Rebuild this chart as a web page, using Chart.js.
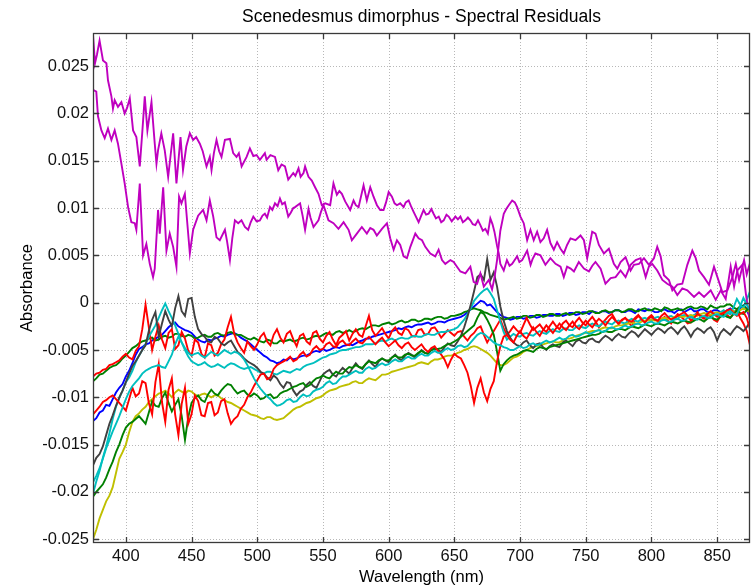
<!DOCTYPE html>
<html>
<head>
<meta charset="utf-8">
<title>Scenedesmus dimorphus - Spectral Residuals</title>
<script src="https://cdn.jsdelivr.net/npm/chart.js@4.4.0/dist/chart.umd.min.js"></script>
<style>
  html, body { margin: 0; padding: 0; background: #fff; }
  #wrap { width: 756px; height: 587px; }
</style>
</head>
<body>
<div id="wrap"><canvas id="residuals" width="756" height="587"></canvas></div>
<script>
// wavelength grid shared by most traces (nm), 2.5 nm spacing
const wavelengths = [
  375, 377.5, 380, 382.5, 385, 387.5, 390, 392.5, 395, 397.5,
  400, 402.5, 405, 407.5, 410, 412.5, 415, 417.5, 420, 422.5,
  425, 427.5, 430, 432.5, 435, 437.5, 440, 442.5, 445, 447.5,
  450, 452.5, 455, 457.5, 460, 462.5, 465, 467.5, 470, 472.5,
  475, 477.5, 480, 482.5, 485, 487.5, 490, 492.5, 495, 497.5,
  500, 502.5, 505, 507.5, 510, 512.5, 515, 517.5, 520, 522.5,
  525, 527.5, 530, 532.5, 535, 537.5, 540, 542.5, 545, 547.5,
  550, 552.5, 555, 557.5, 560, 562.5, 565, 567.5, 570, 572.5,
  575, 577.5, 580, 582.5, 585, 587.5, 590, 592.5, 595, 597.5,
  600, 602.5, 605, 607.5, 610, 612.5, 615, 617.5, 620, 622.5,
  625, 627.5, 630, 632.5, 635, 637.5, 640, 642.5, 645, 647.5,
  650, 652.5, 655, 657.5, 660, 662.5, 665, 667.5, 670, 672.5,
  675, 677.5, 680, 682.5, 685, 687.5, 690, 692.5, 695, 697.5,
  700, 702.5, 705, 707.5, 710, 712.5, 715, 717.5, 720, 722.5,
  725, 727.5, 730, 732.5, 735, 737.5, 740, 742.5, 745, 747.5,
  750, 752.5, 755, 757.5, 760, 762.5, 765, 767.5, 770, 772.5,
  775, 777.5, 780, 782.5, 785, 787.5, 790, 792.5, 795, 797.5,
  800, 802.5, 805, 807.5, 810, 812.5, 815, 817.5, 820, 822.5,
  825, 827.5, 830, 832.5, 835, 837.5, 840, 842.5, 845, 847.5,
  850, 852.5, 855, 857.5, 860, 862.5, 865, 867.5, 870, 872.5,
  875
];

// residuals in milli-absorbance units, one value per wavelength above
const blue1 = [
  -12.5, -12.2, -11.6, -11.4, -10.8, -10.9, -10.2, -9.5, -9.0, -8.6,
  -7.8, -7.2, -6.4, -5.5, -4.9, -4.7, -4.4, -4.3, -4.0, -3.8,
  -3.6, -3.4, -3.0, -2.6, -2.3, -2.1, -2.5, -2.7, -2.9, -3.0,
  -3.2, -3.6, -3.9, -4.1, -4.2, -3.9, -4.0, -3.8, -3.7, -3.5,
  -3.6, -3.4, -3.3, -3.2, -3.4, -3.7, -3.9, -4.1, -4.4, -4.7,
  -5.0, -5.3, -5.6, -5.8, -6.1, -6.2, -6.4, -6.3, -6.0, -6.1,
  -5.8, -6.0, -5.9, -5.7, -5.6, -5.6, -5.4, -5.2, -5.1, -5.2,
  -4.9, -5.1, -5.0, -4.8, -4.7, -4.8, -4.6, -4.5, -4.4, -4.5,
  -4.3, -4.1, -4.0, -3.8, -3.8, -3.6, -3.5, -3.4, -3.3, -3.2,
  -3.1, -3.0, -2.9, -2.7, -2.8, -2.6, -2.5, -2.6, -2.4, -2.3,
  -2.3, -2.2, -2.1, -2.3, -2.2, -2.0, -2.0, -2.1, -1.9, -1.8,
  -1.7, -1.6, -1.5, -1.3, -1.0, -0.7, -0.4, -0.1, 0.2, 0.1,
  -0.3, -0.2, -0.6, -1.0, -1.3, -1.5, -1.6, -1.8, -1.7, -1.5,
  -1.5, -1.7, -1.6, -1.4, -1.4, -1.6, -1.5, -1.3, -1.3, -1.4,
  -1.4, -1.2, -1.2, -1.4, -1.3, -1.1, -1.1, -1.3, -1.2, -1.0,
  -1.0, -1.2, -0.9, -1.0, -1.1, -0.9, -0.9, -1.1, -1.0, -0.8,
  -0.8, -1.0, -1.0, -0.8, -0.9, -1.1, -0.7, -0.8, -0.9, -0.7,
  -0.8, -1.0, -1.0, -0.8, -0.7, -0.9, -0.9, -1.1, -0.8, -0.7,
  -1.0, -0.8, -0.6, -0.9, -0.9, -0.7, -0.7, -1.0, -1.0, -0.8,
  -0.8, -1.0, -1.1, -0.8, -0.6, -0.9, -1.0, -0.6, -0.3, -0.8,
  -1.5
];
const green1 = [
  -8.3, -8.0, -7.6, -7.5, -7.2, -6.9, -6.7, -6.6, -6.3, -5.9,
  -5.6, -5.2, -4.8, -4.6, -4.3, -4.1, -4.0, -3.8, -3.7, -4.0,
  -3.9, -3.6, -3.5, -3.7, -3.6, -3.3, -3.3, -3.5, -3.6, -3.4,
  -3.5, -3.8, -3.7, -3.5, -3.4, -3.6, -3.6, -3.3, -3.2, -3.4,
  -3.5, -3.2, -3.1, -3.3, -3.4, -3.4, -3.6, -3.8, -3.9, -3.7,
  -3.9, -4.1, -4.2, -3.9, -4.0, -4.3, -4.3, -4.0, -4.1, -4.0,
  -3.9, -4.1, -4.0, -3.8, -3.7, -3.9, -3.8, -3.6, -3.5, -3.6,
  -3.4, -3.2, -3.3, -3.4, -3.1, -3.0, -3.2, -3.1, -2.9, -3.1,
  -3.0, -2.8, -2.7, -2.8, -2.6, -2.4, -2.4, -2.5, -2.3, -2.2,
  -2.1, -2.3, -2.2, -2.0, -1.9, -2.1, -2.0, -1.8, -1.8, -2.0,
  -1.9, -1.7, -1.7, -1.8, -1.6, -1.5, -1.5, -1.7, -1.6, -1.4,
  -1.4, -1.3, -1.2, -1.0, -0.9, -0.7, -0.6, -0.7, -0.8, -1.0,
  -1.1, -1.3, -1.4, -1.5, -1.6, -1.8, -1.7, -1.6, -1.5, -1.7,
  -1.6, -1.4, -1.4, -1.6, -1.5, -1.3, -1.3, -1.5, -1.4, -1.2,
  -1.2, -1.4, -1.4, -1.2, -1.1, -1.3, -1.2, -1.0, -1.0, -1.2,
  -1.1, -0.9, -0.9, -1.1, -1.1, -0.9, -0.8, -1.0, -1.0, -0.8,
  -0.8, -1.0, -0.9, -0.7, -0.7, -0.9, -0.9, -0.7, -0.6, -0.8,
  -0.8, -0.6, -0.7, -0.9, -0.5, -0.6, -0.8, -0.7, -0.6, -0.8,
  -0.7, -0.5, -0.4, -0.6, -0.6, -0.4, -0.5, -0.7, -0.3, -0.5,
  -0.6, -0.4, -0.4, -0.2, -0.2, -0.5, -0.7, -0.4, -0.3, -0.6,
  -1.0
];
const red1 = [
  -7.8, -7.5, -7.4, -7.1, -7.0, -6.6, -6.5, -6.3, -6.1, -5.7,
  -5.4, -5.8, -6.0, -5.1, -4.6, -2.8, -0.2, -2.6, -5.0, -3.6,
  -2.4, -3.9, -4.8, -3.2, -2.8, -4.9, -4.5, -3.1, -3.8, -5.1,
  -5.6, -3.9, -4.2, -5.4, -5.8, -4.3, -4.5, -5.6, -5.3, -4.4,
  -3.9, -2.6, -1.5, -3.3, -4.2, -4.8, -5.3, -4.1, -4.6, -5.0,
  -4.4, -3.6, -3.2, -4.1, -4.5, -3.4, -2.8, -3.7, -4.2, -3.3,
  -3.0, -3.9, -4.6, -3.5, -3.3, -4.1, -4.4, -3.2, -3.0, -3.8,
  -4.2, -3.5, -3.1, -3.9, -4.5, -3.7, -3.4, -3.0, -4.0, -3.3,
  -2.8, -3.4, -3.6, -2.5, -1.4, -2.9, -3.5, -3.1, -2.7, -3.3,
  -3.8, -3.0, -2.6, -3.2, -3.4, -2.7, -2.9, -3.5, -3.6, -2.9,
  -2.8, -3.4, -3.3, -2.7, -2.6, -3.1, -3.7, -3.3, -2.9, -3.2,
  -3.5, -3.1, -3.0, -3.6, -4.0, -3.5, -3.2, -2.7, -2.5, -3.4,
  -4.2, -3.6, -3.0, -2.4, -1.8, -2.7, -3.4, -3.0, -2.5, -2.9,
  -3.2, -2.4, -1.6, -2.3, -2.9, -2.6, -2.3, -2.8, -3.1, -2.5,
  -2.0, -2.5, -2.8, -2.2, -1.9, -2.4, -2.6, -2.0, -1.6, -2.1,
  -2.4, -1.9, -1.5, -2.0, -2.6, -2.2, -1.8, -1.4, -1.2, -1.8,
  -2.3, -1.9, -1.6, -2.1, -2.5, -1.8, -1.4, -1.7, -2.1, -1.6,
  -1.3, -1.7, -2.0, -1.8, -1.5, -1.9, -2.2, -1.6, -1.2, -1.5,
  -1.8, -2.2, -2.1, -1.4, -1.0, -1.5, -1.7, -1.4, -1.3, -1.8,
  -2.0, -1.4, -0.9, -1.3, -1.6, -1.1, -0.8, -1.6, -2.2, -3.0,
  -4.5
];
const cyan1 = [
  -20.2, -18.9, -17.8, -16.4, -15.2, -13.8, -12.3, -11.0, -10.1, -9.3,
  -8.4, -7.9, -7.2, -6.3, -5.6, -5.0, -4.4, -3.6, -3.0, -2.4,
  -1.6, -0.8, -0.1, -0.9, -1.6, -2.4, -3.3, -4.2, -5.0, -5.7,
  -6.2, -6.4, -6.6, -6.5, -6.3, -6.6, -6.8, -6.7, -6.5, -6.7,
  -6.9, -6.6, -6.4, -6.5, -6.7, -6.9, -7.0, -6.9, -6.8, -7.0,
  -7.2, -7.4, -7.5, -7.3, -7.3, -7.5, -7.6, -7.4, -7.2, -7.3,
  -7.4, -7.2, -7.0, -7.1, -6.8, -6.6, -6.5, -6.4, -6.2, -6.0,
  -5.8, -5.7, -5.5, -5.4, -5.3, -5.1, -5.0, -5.0, -4.9, -4.8,
  -4.7, -4.7, -4.6, -4.4, -4.4, -4.4, -4.3, -4.1, -4.0, -4.1,
  -3.9, -3.8, -4.0, -3.8, -3.7, -3.8, -3.8, -3.6, -3.5, -3.6,
  -3.6, -3.4, -3.3, -3.4, -3.4, -3.2, -3.1, -3.1, -3.0, -2.9,
  -2.8, -2.6, -2.2, -1.8, -1.2, -0.6, 0.2, 0.6, 1.0, 1.3,
  1.5, 1.0, 0.4, -0.8, -2.0, -3.1, -3.9, -3.6, -3.3, -3.5,
  -3.6, -3.3, -3.2, -3.4, -3.5, -3.2, -3.0, -3.2, -3.3, -3.0,
  -2.8, -3.0, -3.1, -2.8, -2.7, -2.9, -2.9, -2.6, -2.4, -2.6,
  -2.7, -2.4, -2.2, -2.4, -2.5, -2.2, -2.0, -2.2, -2.3, -2.0,
  -1.9, -2.1, -2.2, -1.9, -1.7, -1.9, -2.0, -1.7, -1.6, -1.8,
  -1.9, -1.6, -1.5, -1.7, -1.8, -1.5, -1.4, -1.6, -1.7, -1.4,
  -1.3, -1.5, -1.6, -1.3, -1.2, -1.4, -1.5, -1.1, -1.0, -1.3,
  -1.4, -1.0, -0.8, -1.1, -1.2, -0.5, 0.4, -0.2, -0.6, 0.3,
  1.2
];
const yellow1 = [
  -25.0, -24.0, -22.8, -21.9, -21.0, -20.4, -19.5, -18.0, -16.5, -15.8,
  -15.0, -13.7, -12.6, -12.0, -11.7, -11.3, -11.0, -10.5, -10.2, -9.9,
  -9.6, -9.5, -9.3, -9.6, -10.0, -9.5, -9.2, -9.4, -9.6, -9.3,
  -9.4, -9.7, -9.9, -9.7, -9.6, -9.8, -10.0, -9.8, -9.8, -10.1,
  -10.3, -10.5, -10.6, -10.8, -11.0, -11.2, -11.4, -11.6, -11.8, -11.9,
  -12.0, -12.2, -12.3, -12.1, -12.1, -12.3, -12.4, -12.3, -12.2, -11.9,
  -11.6, -11.3, -11.1, -11.0, -10.8, -10.6, -10.5, -10.3, -10.1, -10.0,
  -9.8, -9.5, -9.3, -9.2, -9.1, -8.9, -8.8, -8.7, -8.6, -8.4,
  -8.3, -8.5, -8.5, -8.2, -8.0, -8.1, -8.2, -7.9, -7.6, -7.6,
  -7.5, -7.3, -7.2, -7.1, -7.0, -6.9, -6.8, -6.7, -6.6, -6.4,
  -6.3, -6.4, -6.5, -6.2, -6.0, -6.0, -5.9, -5.7, -5.6, -5.6,
  -5.5, -5.3, -5.2, -5.0, -4.9, -4.7, -4.6, -4.7, -4.9, -5.1,
  -5.3, -5.6, -6.0, -6.4, -6.6, -6.6, -6.4, -6.1, -5.8, -5.7,
  -5.5, -5.2, -5.0, -4.8, -4.7, -4.6, -4.5, -4.4, -4.3, -4.2,
  -4.1, -4.2, -4.2, -4.0, -3.8, -3.8, -3.7, -3.5, -3.4, -3.3,
  -3.2, -3.1, -3.0, -3.0, -2.9, -2.7, -2.6, -2.7, -2.7, -2.5,
  -2.4, -2.4, -2.3, -2.2, -2.1, -2.2, -2.2, -2.0, -1.9, -1.9,
  -1.8, -1.9, -1.9, -1.7, -1.6, -1.7, -1.7, -1.5, -1.4, -1.5,
  -1.5, -1.4, -1.3, -1.4, -1.4, -1.2, -1.1, -1.2, -1.3, -1.1,
  -1.0, -1.1, -1.2, -1.0, -0.8, -0.9, -1.1, -0.8, -0.6, -0.8,
  -1.0
];
const gray1 = [
  -17.2, -16.4, -16.0, -15.2, -14.0, -12.8, -11.9, -10.9, -10.0, -9.3,
  -8.4, -7.5, -6.7, -6.2, -5.6, -5.0, -4.5, -3.0, -1.8, -1.0,
  -3.6, -2.2, -0.9, -1.8, -2.5, -0.6, 0.7, -0.9, -1.4, 0.4,
  0.5, -1.5, -2.8, -3.3, -3.6, -4.1, -4.2, -3.6, -3.8, -4.3,
  -4.5, -4.2, -4.0, -4.6, -5.2, -5.5, -5.9, -6.2, -6.4, -6.6,
  -6.9, -7.3, -7.5, -7.9, -8.2, -7.7, -8.0, -8.6, -9.0, -8.4,
  -8.5, -9.3, -9.8, -9.4, -9.2, -8.7, -8.4, -8.8, -9.0, -8.3,
  -7.6, -7.3, -7.1, -7.6, -7.8, -7.3, -6.9, -7.2, -7.5, -6.9,
  -6.4, -6.8, -7.0, -6.5, -6.1, -6.5, -6.8, -6.2, -5.9, -6.1,
  -6.3, -5.8, -5.5, -5.9, -6.1, -5.6, -5.3, -5.5, -5.8, -5.4,
  -5.0, -5.3, -5.4, -5.0, -4.8, -5.0, -5.2, -4.7, -4.3, -4.5,
  -4.6, -4.1, -3.5, -2.6, -1.5, -0.2, 1.2, 2.7, 3.0, 2.4,
  4.6, 2.4, 3.2, 1.7, -0.4, -1.9, -3.0, -3.7, -4.2, -4.5,
  -4.6, -4.2, -4.0, -4.5, -4.8, -4.4, -4.3, -4.7, -5.0, -4.6,
  -4.4, -4.6, -4.7, -4.2, -4.0, -4.3, -4.6, -4.1, -3.9, -4.2,
  -4.3, -3.9, -3.8, -4.1, -4.2, -3.8, -3.5, -3.7, -4.0, -3.6,
  -3.3, -3.6, -3.7, -3.3, -3.0, -3.2, -3.6, -3.2, -2.8, -3.1,
  -3.4, -3.0, -2.7, -2.9, -3.2, -2.8, -2.6, -2.9, -3.3, -2.8,
  -2.5, -3.0, -3.6, -3.0, -2.7, -2.9, -3.2, -2.8, -2.6, -3.1,
  -4.0, -3.2, -2.8, -3.1, -3.4, -2.9, -2.5, -2.7, -3.0, -2.6,
  -2.0
];
const green2 = [
  -20.5, -20.0, -19.6, -19.2, -18.5, -17.6, -16.8, -15.8, -15.0, -14.0,
  -13.2, -12.8, -12.6, -12.3, -12.0, -12.4, -12.8, -11.6, -10.4, -10.9,
  -11.0, -10.1, -9.5, -10.6, -11.5, -10.8, -10.2, -12.0, -14.5, -12.1,
  -10.6, -10.1, -9.8, -10.3, -10.5, -9.7, -9.2, -9.6, -9.8, -9.3,
  -8.9, -8.6, -8.7, -9.2, -9.6, -9.4, -9.3, -9.7, -9.9, -9.6,
  -9.8, -10.2, -10.1, -9.8, -9.7, -10.1, -10.0, -9.6, -9.4, -9.3,
  -9.1, -8.9, -8.8, -8.6, -8.5, -8.9, -8.7, -8.3, -8.0, -7.9,
  -7.7, -7.9, -8.0, -7.6, -7.3, -7.5, -7.5, -7.1, -6.8, -6.9,
  -6.6, -6.8, -6.9, -6.5, -6.2, -6.3, -6.4, -6.1, -5.9, -6.1,
  -6.1, -5.8, -5.6, -5.8, -5.8, -5.5, -5.4, -5.6, -5.6, -5.3,
  -5.1, -5.3, -5.4, -5.0, -4.9, -4.9, -4.8, -4.6, -4.4, -4.3,
  -4.1, -3.9, -3.6, -3.3, -3.0, -2.7, -2.4, -1.6, -1.0, -1.2,
  -1.8, -2.5, -3.4, -5.2, -7.2, -6.5, -6.1, -5.8, -5.6, -5.5,
  -5.3, -5.1, -5.0, -5.1, -5.2, -4.9, -4.7, -4.8, -4.9, -4.7,
  -4.6, -4.5, -4.4, -4.3, -4.2, -4.1, -4.0, -3.9, -3.8, -3.7,
  -3.6, -3.5, -3.4, -3.4, -3.3, -3.1, -3.0, -3.1, -3.1, -2.9,
  -2.8, -2.8, -2.9, -2.7, -2.5, -2.6, -2.7, -2.5, -2.3, -2.4,
  -2.5, -2.3, -2.2, -2.3, -2.4, -2.2, -2.0, -2.1, -2.2, -2.0,
  -1.9, -2.0, -2.1, -1.9, -1.7, -1.8, -2.0, -1.7, -1.5, -1.7,
  -1.8, -1.5, -1.3, -1.5, -1.6, -1.2, -0.8, -1.1, -1.2, -0.8,
  -0.5
];
const red2 = [
  -11.8, -11.4, -11.0, -10.5, -10.3, -10.0, -9.8, -10.2, -10.6, -11.0,
  -11.4, -10.2, -9.0, -9.9, -9.6, -8.3, -8.5, -10.6, -11.8, -8.4,
  -6.5, -10.5, -12.6, -9.2, -8.0, -11.8, -14.0, -10.7, -9.0, -12.8,
  -11.8, -9.8, -10.4, -11.9, -12.0, -10.6, -10.5, -11.9, -11.6, -10.4,
  -10.2, -11.7, -12.8, -12.3, -12.0, -11.2, -10.8, -10.0, -9.5, -8.8,
  -8.2, -7.6, -7.5, -8.1, -7.9, -7.0, -6.6, -6.4, -6.2, -6.0,
  -5.7, -6.2, -6.0, -5.5, -5.2, -5.7, -5.5, -4.9, -4.6, -5.0,
  -4.9, -4.4, -4.2, -4.6, -4.7, -4.2, -4.0, -4.4, -4.5, -4.1,
  -3.8, -4.2, -4.3, -3.9, -3.6, -4.0, -4.4, -4.0, -3.7, -4.2,
  -4.6, -4.3, -4.0, -4.5, -4.8, -4.4, -4.2, -4.7, -5.0, -4.7,
  -4.4, -4.9, -5.2, -4.8, -4.6, -5.1, -5.5, -6.0, -6.8, -6.0,
  -5.4, -5.7, -5.9, -6.6, -7.4, -8.8, -10.6, -9.0, -8.0, -9.5,
  -10.4, -9.1, -8.3, -6.2, -4.6, -3.6, -3.4, -3.9, -4.2, -3.5,
  -3.0, -3.5, -3.8, -3.2, -2.6, -3.1, -3.5, -2.9, -2.4, -2.8,
  -3.2, -2.7, -2.2, -2.6, -2.9, -2.4, -2.0, -2.5, -2.8, -2.3,
  -1.9, -2.3, -2.6, -2.1, -1.7, -2.0, -2.4, -1.9, -1.5, -1.9,
  -2.2, -1.8, -1.6, -1.9, -2.0, -1.6, -1.3, -1.8, -2.1, -1.7,
  -1.5, -1.8, -1.9, -1.4, -1.1, -1.5, -1.8, -1.6, -1.4, -1.2,
  -1.0, -1.4, -1.9, -1.6, -1.2, -1.4, -1.6, -1.2, -0.9, -1.2,
  -1.5, -1.2, -1.1, -0.8, -0.7, -1.1, -1.4, -1.2, -1.0, -1.6,
  -2.8
];
const cyan2 = [
  -19.0, -18.3, -17.5, -16.5, -15.4, -14.5, -13.6, -12.8, -12.0, -11.1,
  -10.2, -9.4, -8.8, -8.4, -8.0, -7.5, -7.2, -7.0, -6.8, -6.7,
  -6.6, -6.8, -6.9, -6.2, -5.5, -4.4, -3.6, -4.2, -4.8, -5.3,
  -5.6, -5.4, -5.3, -5.6, -5.8, -5.5, -5.2, -5.4, -5.6, -5.3,
  -5.0, -5.2, -5.4, -5.2, -5.3, -5.6, -6.0, -6.6, -7.3, -8.0,
  -8.6, -9.1, -9.5, -9.9, -10.2, -10.6, -10.9, -10.8, -10.6, -10.3,
  -10.2, -10.5, -10.4, -10.0, -9.7, -9.9, -9.8, -9.4, -9.2, -9.1,
  -8.9, -8.5, -8.3, -8.6, -8.5, -8.1, -7.8, -7.8, -7.6, -7.4,
  -7.2, -7.4, -7.4, -7.0, -6.8, -7.0, -6.9, -6.6, -6.4, -6.6,
  -6.5, -6.2, -6.0, -6.2, -6.2, -5.9, -5.7, -5.9, -5.9, -5.6,
  -5.4, -5.6, -5.6, -5.3, -5.1, -5.3, -5.3, -5.0, -4.8, -5.0,
  -4.9, -4.6, -4.5, -4.7, -4.6, -4.2, -3.8, -3.4, -3.2, -3.3,
  -3.6, -3.9, -4.2, -4.4, -4.5, -4.7, -4.8, -5.0, -5.0, -4.8,
  -4.6, -4.8, -4.7, -4.4, -4.3, -4.5, -4.4, -4.2, -4.0, -4.2,
  -4.1, -3.9, -3.7, -3.9, -3.8, -3.5, -3.4, -3.6, -3.5, -3.3,
  -3.1, -3.3, -3.2, -3.0, -2.9, -3.1, -3.0, -2.7, -2.6, -2.8,
  -2.8, -2.6, -2.4, -2.6, -2.5, -2.3, -2.2, -2.4, -2.3, -2.1,
  -2.0, -2.2, -2.2, -1.9, -1.8, -2.0, -2.0, -1.8, -1.7, -1.9,
  -1.9, -1.6, -1.5, -1.7, -1.8, -1.5, -1.4, -1.6, -1.6, -1.3,
  -1.2, -1.4, -1.5, -1.1, -0.9, -1.2, -1.3, -0.4, 0.5, -0.2,
  -0.8
];

// the two magenta traces carry their own wavelength points: [nm, residual]
const magenta1 = [
  [375, 28.3], [376.5, 25.3], [378, 26.2], [380, 27.7], [382.6, 25.6], [385.2, 25.3], [386.4, 23.5],
  [389, 21.8], [390.2, 20.5], [391.5, 21.4], [394, 20.7], [396.6, 21.2], [399.1, 20.0], [401, 20.6],
  [403, 21.6], [405.5, 18.2], [408, 17.5], [410.6, 14.4], [412.5, 18.0], [414.4, 21.8], [416.4, 18.2],
  [419.5, 21.2], [422, 16.8], [423.3, 14.7], [424.5, 16.1], [427, 17.9], [429.6, 16.1], [432.2, 13.3],
  [434, 15.5], [436, 17.9], [438.5, 12.6], [441.6, 17.5], [443.5, 14.0], [446, 16.5], [448.7, 17.9],
  [451.2, 17.2], [453.5, 17.5], [456.3, 16.8], [458.5, 16.0], [461.4, 14.4], [463.9, 15.4], [465.2, 14.0],
  [467, 15.8], [469, 17.2], [471, 16.0], [472.8, 15.4], [475.4, 17.2], [479.2, 17.3], [481.7, 15.8],
  [484.2, 15.4], [486, 15.8], [488.1, 14.4], [491.9, 15.4], [494.4, 16.3], [497, 15.5], [499.5, 15.6],
  [502, 15.1], [505.8, 15.8], [507.1, 15.1], [510, 15.6], [513.5, 15.4], [516, 14.0], [518.5, 14.6],
  [521.1, 14.4], [523.6, 13.0], [527.4, 13.7], [529, 13.4], [531.4, 14.2], [533, 13.3], [535.2, 13.7],
  [536.4, 14.4], [539, 13.3], [541.5, 12.9], [544, 12.2], [546.6, 11.5], [549.1, 10.3], [551.7, 10.5],
  [555.5, 10.3], [558, 12.6], [560.6, 11.4], [562.5, 11.8], [564.4, 11.5], [566.9, 10.7], [570.7, 9.8],
  [573.3, 10.8], [575, 10.3], [577.1, 10.1], [580.9, 12.4], [583.4, 10.8], [586, 12.2], [588.5, 11.2],
  [591.1, 10.3], [593.6, 9.8], [596.1, 9.8], [598, 10.6], [600, 11.7], [602.5, 11.2], [604.5, 10.5],
  [606.3, 10.3], [608.8, 10.5], [611.4, 10.1], [613, 10.6], [615.2, 10.8], [617, 10.2], [619, 9.6],
  [622.8, 8.5], [624.8, 9.2], [626.6, 9.8], [628.5, 9.3], [630.4, 9.4], [632.5, 9.9], [634.2, 9.4],
  [636, 8.9], [638.1, 9.1], [640, 8.5], [641.9, 8.7], [644, 9.3], [645.7, 9.1], [648, 8.6],
  [650.8, 9.1], [652.7, 8.8], [654.6, 9.1], [656.5, 8.5], [658.4, 8.7], [660.3, 9.0], [662.2, 8.7],
  [664, 8.3], [666, 8.2], [668, 8.7], [669.8, 8.2], [671.7, 7.6], [673.6, 7.8], [675.5, 7.3],
  [677.4, 8.9], [679, 8.3], [680.5, 7.5], [682.5, 6.0], [683.8, 5.2], [685, 4.1], [687.6, 3.4],
  [690, 4.5], [692, 3.9], [694, 4.1], [697.8, 4.9], [699.5, 4.3], [701.6, 4.5], [703.5, 5.0],
  [705.4, 5.5], [708, 4.0], [709.5, 4.6], [711.7, 5.2], [715.5, 5.0], [719.3, 4.0], [723.1, 4.7],
  [727, 4.1], [730.8, 3.8], [733.3, 2.7], [735.8, 3.8], [738.5, 3.6], [741, 3.3], [744.7, 4.3],
  [748.6, 3.6], [752.4, 3.3], [755, 3.9], [757.4, 4.3], [761.3, 3.6], [765, 2.0], [769, 2.6],
  [772.7, 2.7], [776.5, 3.4], [780.3, 2.7], [784.1, 4.0], [788, 4.5], [791.7, 4.7], [795.6, 2.7],
  [798, 3.8], [800.6, 4.1], [804.4, 3.4], [808.3, 2.4], [812, 2.0], [815.9, 1.7], [819.7, 0.8],
  [823.5, 1.5], [827.3, 1.3], [832.4, 0.6], [836.2, 1.1], [840, 0.6], [845.1, 1.3], [848.9, 0.3],
  [852.7, 1.3], [856.5, 0.4], [860.3, 3.8], [862.9, 1.7], [865.4, 3.4], [869.2, 4.0], [871.8, 1.0],
  [874.3, -1.5], [875, -1.9]
];
const magenta2 = [
  [375, 22.5], [377.5, 22.3], [378.8, 19.7], [381.4, 18.2], [383.9, 17.4], [386.4, 18.4], [389, 17.2],
  [391.5, 18.2], [394, 16.8], [396.6, 14.7], [399.1, 12.6], [401.7, 10.1], [404.2, 8.5], [406.8, 8.4],
  [408, 7.7], [410.6, 12.6], [413.1, 5.0], [415.6, 6.2], [418.2, 4.1], [420.7, 2.7], [422, 3.6],
  [424.5, 9.8], [425.8, 7.3], [428.4, 12.2], [430.9, 5.5], [433.4, 7.3], [436, 5.9], [438.5, 3.8],
  [440.5, 11.2], [442.3, 10.5], [444.9, 11.5], [448.7, 5.2], [451.2, 7.7], [455, 9.2], [458.8, 9.8],
  [461.4, 8.7], [463.9, 10.8], [466.5, 9.1], [469, 6.9], [471.5, 6.6], [475.4, 7.7], [477, 6.5],
  [479.2, 4.5], [481, 6.8], [483, 8.7], [485.5, 8.4], [488, 8.7], [490.6, 8.0], [493.1, 7.7],
  [495, 8.5], [497, 9.1], [499.5, 8.6], [502, 8.7], [504, 9.2], [505.8, 9.4], [507.5, 9.0],
  [509.7, 10.1], [511.5, 9.8], [513.5, 10.5], [515.5, 10.2], [517.3, 11.0], [519, 10.4], [521, 10.6],
  [523.6, 9.1], [525.5, 9.5], [527.4, 10.0], [528.8, 10.1], [532.6, 10.5], [534.5, 9.2], [536.4, 7.7],
  [539, 9.9], [540.5, 9.0], [542.8, 8.0], [546.6, 8.7], [548.5, 9.6], [550.4, 10.3], [554.2, 8.7],
  [558, 8.4], [561.8, 7.8], [565.7, 8.5], [569.5, 7.7], [572, 6.6], [575.8, 7.3], [579.6, 8.0],
  [583.4, 7.3], [586, 7.9], [588.5, 7.7], [591, 7.1], [594.9, 7.8], [598.7, 8.4], [601.2, 6.8],
  [603.8, 5.6], [606.3, 6.6], [608.8, 6.1], [611.4, 4.9], [613.9, 4.7], [616.5, 5.9], [620.3, 7.3],
  [622.8, 6.8], [625.4, 6.6], [627.9, 5.9], [631.7, 5.2], [635.5, 4.9], [638, 5.6], [640.6, 4.5],
  [643.1, 4.1], [647, 4.5], [649.5, 4.3], [652, 3.8], [654.6, 3.3], [658.4, 3.1], [662.2, 3.8],
  [664.7, 2.2], [667.3, 2.0], [669.8, 3.1], [672.4, 1.7], [676.2, 2.4], [678.7, 1.4], [680.5, 2.6],
  [682.5, 4.5], [685, 7.6], [687.6, 9.4], [689.5, 9.9], [691.4, 10.3], [694, 10.8], [696, 10.6],
  [697.8, 10.1], [700.3, 9.1], [702.8, 8.4], [705.4, 6.6], [707.9, 7.7], [710.4, 6.6], [713, 7.5],
  [715.5, 6.4], [718, 6.8], [720.6, 7.7], [723.1, 6.3], [725.7, 5.6], [728.2, 6.4], [730.8, 5.7],
  [733.3, 5.2], [735.8, 6.1], [738.4, 6.8], [742.2, 6.6], [746, 7.1], [748.6, 6.6], [751.1, 4.7],
  [754.9, 7.5], [757.4, 7.3], [760, 6.1], [763.8, 5.2], [767.6, 5.7], [771.4, 4.1], [774, 3.6],
  [776.5, 4.3], [780.3, 4.8], [784.1, 3.4], [786.7, 4.0], [790.5, 4.1], [794.3, 4.7], [798.1, 4.0],
  [801.9, 4.7], [804.4, 5.9], [807, 4.9], [809.5, 2.9], [813.3, 2.4], [815.9, 1.3], [819.7, 1.9],
  [823.5, 2.0], [827.3, 4.0], [831.1, 5.5], [833.7, 4.7], [836.2, 3.4], [840, 2.7], [843.8, 1.9],
  [847.6, 3.8], [850.2, 2.7], [854, 1.1], [857.8, 1.3], [861.6, 2.7], [864.2, 4.1], [866.7, 2.4],
  [870.5, 4.5], [872.5, 3.0], [875, 4.2]
];

const xTicks = [400, 450, 500, 550, 600, 650, 700, 750, 800, 850];
const yTicks = [-0.025, -0.02, -0.015, -0.01, -0.005, 0, 0.005, 0.01, 0.015, 0.02, 0.025];
const xLimits = [375, 875];
const yLimits = [-0.0254, 0.0285];

const FONT = "'Liberation Sans', Arial, Helvetica, sans-serif";

const onGrid = vals => vals.map((v, i) => ({ x: wavelengths[i], y: v / 1000 }));
const fromPairs = pairs => pairs.map(([nm, v]) => ({ x: nm, y: v / 1000 }));

// plotting order b g r c m y k, later traces end up on top
const traces = [
  { data: onGrid(blue1), color: '#0000ff' },
  { data: onGrid(green1), color: '#008000' },
  { data: onGrid(red1), color: '#ff0000' },
  { data: onGrid(cyan1), color: '#00bfbf' },
  { data: fromPairs(magenta1), color: '#bf00bf' },
  { data: onGrid(yellow1), color: '#bfbf00' },
  { data: onGrid(gray1), color: '#404040' },
  { data: onGrid(green2), color: '#008000' },
  { data: onGrid(red2), color: '#ff0000' },
  { data: onGrid(cyan2), color: '#00bfbf' },
  { data: fromPairs(magenta2), color: '#bf00bf' }
];

// chart.js paints dataset 0 last, so reverse to keep the plot order
const datasets = traces.slice().reverse().map(t => ({
  data: t.data,
  borderColor: t.color,
  borderWidth: 1.9,
  pointRadius: 0,
  tension: 0,
  fill: false
}));

// dotted grid, boxed axes with inward ticks, titles
const matlabFrame = {
  id: 'matlabFrame',
  beforeDatasetsDraw(chart) {
    const { ctx, chartArea: a, scales: { x, y } } = chart;
    ctx.save();
    ctx.strokeStyle = '#b8b8b8';
    ctx.lineWidth = 1;
    ctx.setLineDash([1, 2]);
    ctx.beginPath();
    xTicks.forEach(t => {
      const px = Math.round(x.getPixelForValue(t)) + 0.5;
      ctx.moveTo(px, a.top); ctx.lineTo(px, a.bottom);
    });
    yTicks.forEach(t => {
      const py = Math.round(y.getPixelForValue(t)) + 0.5;
      ctx.moveTo(a.left, py); ctx.lineTo(a.right, py);
    });
    ctx.stroke();
    ctx.restore();
  },
  afterDatasetsDraw(chart) {
    const { ctx, chartArea: a, scales: { x, y } } = chart;
    const len = 6;
    ctx.save();
    ctx.strokeStyle = '#3a3a3a';
    ctx.lineWidth = 1.3;
    ctx.beginPath();
    xTicks.forEach(t => {
      const px = Math.round(x.getPixelForValue(t)) + 0.5;
      ctx.moveTo(px, a.bottom); ctx.lineTo(px, a.bottom - len);
      ctx.moveTo(px, a.top); ctx.lineTo(px, a.top + len);
    });
    yTicks.forEach(t => {
      const py = Math.round(y.getPixelForValue(t)) + 0.5;
      ctx.moveTo(a.left, py); ctx.lineTo(a.left + len, py);
      ctx.moveTo(a.right, py); ctx.lineTo(a.right - len, py);
    });
    ctx.stroke();
    ctx.strokeRect(a.left + 0.5, a.top + 0.5, a.right - a.left - 1, a.bottom - a.top - 1);
    ctx.restore();
  },
  afterDraw(chart) {
    const { ctx, chartArea: a } = chart;
    const cx = (a.left + a.right) / 2;
    ctx.save();
    ctx.fillStyle = '#000';
    ctx.textAlign = 'center';
    ctx.textBaseline = 'alphabetic';
    ctx.font = `17.5px ${FONT}`;
    ctx.fillText('Scenedesmus dimorphus - Spectral Residuals', cx, 21.5);
    ctx.font = `16.5px ${FONT}`;
    ctx.textBaseline = 'middle';
    ctx.fillText('Wavelength (nm)', cx, 577);
    ctx.translate(27, (a.top + a.bottom) / 2);
    ctx.rotate(-Math.PI / 2);
    ctx.fillText('Absorbance', 0, 0);
    ctx.restore();
  }
};

new Chart(document.getElementById('residuals'), {
  type: 'line',
  data: { datasets },
  options: {
    responsive: false,
    animation: false,
    devicePixelRatio: 1,
    layout: { padding: { top: 33, right: 6, left: 0, bottom: 0 } },
    plugins: { legend: { display: false }, title: { display: false }, tooltip: { enabled: false } },
    scales: {
      x: {
        type: 'linear',
        min: xLimits[0],
        max: xLimits[1],
        afterBuildTicks: s => { s.ticks = xTicks.map(v => ({ value: v })); },
        afterFit: s => { s.height = 44; },
        grid: { display: false, drawTicks: false },
        border: { display: false },
        ticks: { color: '#111', padding: 4, maxRotation: 0, font: { family: FONT, size: 16.5 } }
      },
      y: {
        type: 'linear',
        min: yLimits[0],
        max: yLimits[1],
        afterBuildTicks: s => { s.ticks = yTicks.map(v => ({ value: v })); },
        afterFit: s => { s.width = 93; },
        grid: { display: false, drawTicks: false },
        border: { display: false },
        ticks: {
          color: '#111',
          padding: 4,
          font: { family: FONT, size: 16.5 },
          callback: v => String(+v.toFixed(3))
        }
      }
    }
  },
  plugins: [matlabFrame]
});
</script>
</body>
</html>
